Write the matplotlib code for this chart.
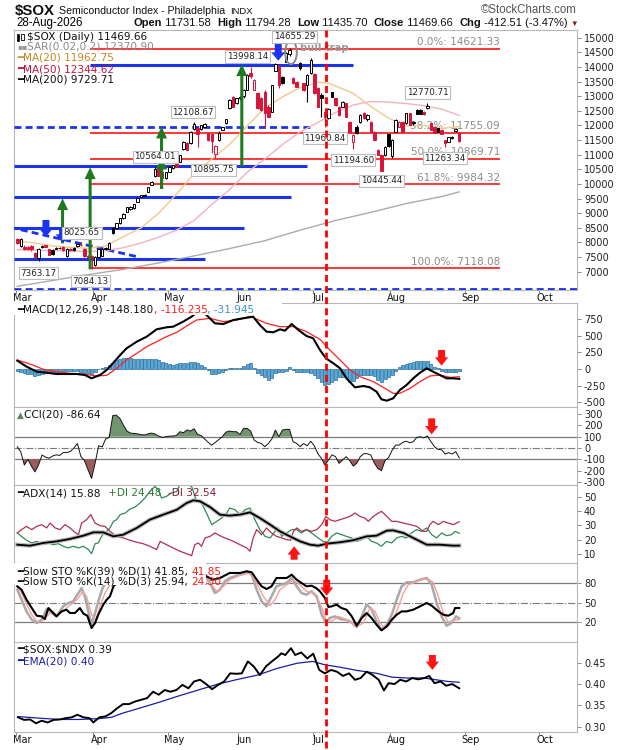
import numpy as np
import pandas as pd
import matplotlib
matplotlib.use("Agg")
import matplotlib.pyplot as plt
from matplotlib.patches import Ellipse, Rectangle
from matplotlib.lines import Line2D

plt.rcParams["font.family"] = ["DejaVu Sans"]
plt.rcParams["axes.unicode_minus"] = False
HEAD_FONT = ["Liberation Sans", "DejaVu Sans"]

# ---------------- trading calendar ----------------
holidays = pd.to_datetime(["2026-04-03", "2026-05-25", "2026-06-19", "2026-07-03", "2026-09-07"])
calendar = pd.bdate_range("2026-03-02", "2026-10-30")
calendar = calendar[~calendar.isin(holidays)]
month_names = ["Mar", "Apr", "May", "Jun", "Jul", "Aug", "Sep", "Oct"]

# ---------------- price data ($SOX daily) ----------------
opens = [8110,7880,7850,7860,7880,7650,7470,7850,7900,7760,
         7740,7780,7800,7850,7530,7760,7800,7880,7920,7780,
         7540,7520,7230,7500,7540,7780,7790,8480,8480,8660,
         8830,9050,9150,9170,9400,9570,9600,9740,9965,10260,
         10500,10420,10200,10420,10535,10706,10763,11185,11390,11390,
         11869,11903,11880,11960,11732,11700,11025,11500,11860,12074,
         12587,12986,12758,12950,13000,13214,13800,13214,13100,12929,
         13157,12644,12473,13864,14050,13670,14183,14450,13613,13500,
         14126,13442,13385,13784,13750,13271,13043,12473,12245,13134,
         12929,12644,12644,12758,12131,11447,11960,12131,12416,12211,
         12131,11789,11162,10991,10991,11700,10950,11789,11960,12131,
         12074,12416,12130,12530,12530,12470,12587,12074,11960,11900,
         11850,11504,11447,11560,11800,11731.58]
highs = [8150,8150,7900,7890,7920,7690,7800,7920,7930,7780,
         7770,7840,7840,7880,7820,7810,7850,7960,8025.65,7800,
         7560,7560,7530,7790,7800,7860,8000,8520,8670,8830,
         9010,9210,9240,9330,9520,9630,9650,9900,10100,10564.01,
         10520,10470,10420,10600,10660,10720,11000,11460,11420,11800,
         12108.67,11950,12020,12080,11760,11720,11320,11800,11960,12230,
         12900,13000,12950,13020,13250,13760,13998.14,13580,13150,12990,
         13200,12700,13400,14130,14080,13700,14500,14655.29,13650,13530,
         14183,13470,13750,14320,13780,13300,13100,12500,12600,13160,
         12950,12660,12840,12780,12150,11700,12000,12380,12450,12400,
         12150,11800,11200,11020,11300,11720,11550,12220,12160,12160,
         12430,12440,12150,12560,12560,12500,12770.71,12100,11990,11920,
         11880,11520,11620,11640,11930,11794.28]
lows = [7940,7860,7740,7740,7700,7460,7363.17,7820,7840,7560,
        7560,7760,7770,7720,7510,7700,7720,7860,7880,7500,
        7480,7084.13,7200,7480,7520,7740,7770,8280,8460,8640,
        8810,9030,9100,9150,9380,9550,9580,9720,9950,10240,
        10260,9850,10180,10400,10520,10580,10740,11160,11150,11380,
        11850,11276,11860,11940,11480,11048,10895.75,11480,11840,12060,
        12570,12620,12740,12880,12950,13200,13640,13200,12580,12500,
        11900,12280,12450,13850,13270,13420,14160,14380,13420,13300,
        13900,13190,12815,13760,13080,12620,12302,11960.84,12220,12960,
        12680,12340,12620,12280,11770,11194.60,11700,12100,12230,12150,
        11780,11500,10980,10445.44,10960,11250,10880,11770,11940,11780,
        12050,12000,12030,12380,12380,12360,12560,11840,11730,11780,
        11700,11263.34,11420,11540,11780,11435.70]
closes = [7970,8120,7780,7770,7760,7490,7770,7880,7860,7580,
          7600,7810,7820,7740,7790,7740,7750,7940,7900,7520,
          7500,7480,7510,7760,7780,7800,7970,8320,8650,8820,
          8990,9200,9220,9310,9510,9610,9630,9880,10080,10500,
          10280,10200,10400,10590,10649,10592,10991,11447,11162,11789,
          12040,11709,12000,12050,11504,11480,11299,11760,11940,12211,
          12872,12644,12929,12990,13214,13727,13700,13556,12600,12530,
          12416,12302,13385,14092,13400,13442,14468,14590,13442,13330,
          13955,13214,13727,14240,13100,12644,12929,12302,12564,12986,
          12701,12359,12815,12300,11789,11675,11732,12359,12245,12359,
          11790,11504,10991,10460,11276,11300,11500,12188,12131,11789,
          12416,12017,12090,12393,12400,12380,12650,11846,11740,11789,
          11720,11390,11600,11610,11882.17,11469.66]

# moving averages (read at sample days)
ma20_pos = [0,5,10,15,20,25,30,35,40,45,50,55,60,65,70,75,80,85,88,90,95,100,105,110,115,120,125]
ma20_val = [8050,7980,7880,7830,7800,7880,8200,8500,9000,9650,10350,10850,11350,11980,12600,12980,
            13300,13480,13450,13350,13100,12650,12250,11990,12000,11900,11963]
ma50_pos = [0,10,20,25,30,35,40,45,50,55,60,65,70,75,80,85,90,95,100,105,110,115,120,125]
ma50_val = [7750,7720,7690,7720,7820,7980,8180,8420,8750,9300,9800,10400,10850,11350,11780,12100,
            12450,12700,12820,12800,12750,12680,12560,12345]
ma200_pos = [0,10,20,30,40,50,60,70,80,90,100,110,120,125]
ma200_val = [6500,6700,6900,7080,7300,7540,7790,8060,8420,8750,9030,9330,9570,9730]

fib_levels = [14621.33, 11755.09, 10869.71, 9984.32, 7118.08]
fib_names = ["0.0%", "38.2%", "50.0%", "61.8%", "100.0%"]
support_levels = [14080, 10600, 9565, 8505, 7450]

# ---------------- MACD ----------------
macd_pos = [0,2.65,5.5,8.3,11.1,14,16.8,19.1,21,23.4,25.3,27.2,29.1,30.9,33.8,36.6,39.4,42.2,44.1,46.9,
            49.3,51.7,53.5,55.9,58.3,61.1,63.9,66.7,68.6,70.5,72.4,74.3,75.7,77.6,79.5,81.8,83.7,85.6,87.3,
            89.4,91.3,93.1,95.5,97.9,99.7,101.6,103,104.5,106.3,108.2,110.1,112,113.9,115.8,117.6,119.5,
            121.4,123.3,125]
macd_val = [125,35,-40,-55,-75,-75,-75,-90,-140,-90,-15,95,210,310,410,485,595,625,635,710,
            785,885,810,685,675,735,760,785,660,560,550,595,575,675,585,495,460,285,160,
            85,10,-140,-275,-255,-275,-340,-455,-475,-440,-315,-240,-140,-55,10,-40,-90,
            -140,-140,-148.18]
signal_pos = [0,3.6,7.4,11.1,14.9,18.7,22.4,25.3,28.1,30.9,33.8,36.6,39.4,42.2,45.1,47.9,50.7,54.5,58.3,
              62,65.8,70.5,74.3,78.1,81.8,85.6,88.4,91.3,94.1,96.9,100.7,103.5,106.3,108.2,111.1,
              113.9,116.7,119.5,122.4,125]
signal_val = [135,75,-5,-40,-65,-75,-105,-95,10,135,235,335,410,485,550,645,735,760,710,
              735,790,685,635,635,560,445,285,135,-15,-115,-190,-275,-365,-365,-290,
              -190,-105,-90,-125,-116.235]
macd_hist = [-25,-40,-55,-70,-80,-105,-95,-80,-65,-60, -55,-50,-40,-30,-25,-25,-25,-35,-40,-55,
             -60,-75,-45,-5,15,35,60,90,130,150, 160,160,160,155,150,150,150,145,150,155,
             140,110,90,75,60,70,85,90,95,110, 100,85,60,30,-20,-75,-70,-55,-40,-10,
             10,10,10,10,50,75,85,20,-60,-90, -120,-160,-140,-60,-40,-40,-25,30,-20,-40,
             -40,-40,-50,-65,-95,-140,-200,-245,-220,-190, -160,-120,-115,-120,-190,-175,-140,-90,-90,-90,
             -95,-110,-170,-195,-150,-120,-95,-25,30,60, 80,95,105,115,125,125,115,70,30,10,
             -25,-40,-40,-40,-40,-32]

# ---------------- CCI(20) ----------------
cci_vals = [12,-35,-150,-100,-160,-210,-150,-62,-80,-90, -70,-60,-65,-40,-40,-30,0,40,-76,-110,
            -190,-268,-135,20,10,80,94,285,290,262, 203,150,132,129,125,118,115,125,132,123,
            105,94,100,105,106,110,144,135,160,150, 170,120,110,80,50,25,50,75,100,140,
            150,144,144,120,173,173,150,70,50,40, 12,40,80,159,100,159,165,165,56,41,
            12,40,20,60,20,-50,-90,-150,-106,-60, -76,-135,-106,-76,-110,-159,-135,-76,-50,-50,
            -62,-135,-180,-200,-110,-85,-20,26,26,50, 60,47,56,94,100,90,106,56,12,-12,
            -15,-53,-41,-53,-32,-86.64]

# ---------------- ADX(14) ----------------
adx_pos = [0,3.6,7.4,11.1,14.9,18.7,21.5,24.3,27.2,30,33.8,37.5,41.3,45.1,47.9,49.8,51.7,54.5,57.3,60.1,
           63,65.8,68.6,71.5,74.3,77.1,80,82.8,85.1,87.5,91.3,95,98.8,101.6,104.5,106.3,109.2,112,115.8,
           119.5,123.3,125]
adx_val = [16.5,15.8,17.7,18.8,20.5,22.8,25.1,25.1,22.3,23.5,28.2,34,37.5,40.9,45.6,47.5,46.8,42.8,37.5,36.8,
           37.5,39.1,35.1,30.5,25.8,22.3,18.8,16.5,15.8,17.2,18.2,19.6,22.3,22.8,26.3,26.5,24.7,21.2,16.5,
           16.5,15.8,15.88]
pdi_pos = [0,1.2,2.6,4.1,5.5,7.4,8.8,10.2,11.6,13, 14.4,15.8,17.3,18.7,20.1,21,22,22.9,23.6,24.5,
           25.3,26.2,27.2,28.1,29.1,30.5,31.9,33.3,34.7,36.1, 37.5,38.9,39.9,40.8,42.2,43.6,45.1,46,47.4,49.3,
           50.7,52.1,53.5,55,56.4,57.8,59.2,60.1,61.6,63, 64.4,65.8,67.2,68.6,70.1,71.5,72.9,73.8,74.8,76.2,
           77.6,79,80.4,81.8,83.2,84.7,86.5,87.7,88.9,90.3, 91.7,93.1,94.6,96,97.4,98.8,100.2,101.6,103,104.4,
           105.9,107.3,108.7,110.1,111.5,112.9,114.3,115.8,117.2,118.6, 120,121.4,122.8,123.8,125]
pdi_val = [24.7,22.3,19.6,17.7,18.8,16.5,17.7,16.5,17.2,15.4, 14.2,15.4,14.2,15.4,13.1,10.2,17.2,17.7,21.2,24.7,
           25.8,28.2,32.8,34,37.5,38.6,41.4,42.8,45.6,49.1, 53.7,57.2,54.9,49.1,50.3,52.6,53.7,58.4,59.5,57.2,
           46.8,45.6,38.6,30.5,32.8,35.1,38.6,42.1,40.9,37.5, 40.9,42.1,34,27,22.3,21.2,25.8,28.2,22.3,24.7,
           27,27,24.7,27,24.7,21.9,18.8,18.2,22.3,24.7, 23.5,22.3,21.2,18.8,20,22.3,18.8,17.7,15.4,18.8,
           17.7,21.2,22.3,21.2,24.7,27,25.8,28.2,23.5,21.2, 24.7,22.8,23.5,25.8,24.48]
ndi_pos = [0,1.2,2.6,4.1,5.5,6.9,8.3,9.3,10.7,12.1, 13.5,14.9,16.3,17.3,18.2,19.6,20.8,22,23.4,24.8,
           26.2,28.1,30,31.9,33.8,35.6,37.5,39.4,40.4,42.2, 44.1,46,47.9,49.3,50.2,51.2,52.1,53.1,54.5,55.9,
           57.3,58.7,60.1,62,63.9,64.9,65.8,66.7,67.7,69.1, 70.5,71.9,73.3,74.8,76.2,77.3,78.1,79,80.4,81.8,
           83.2,84.7,86.1,87.3,88.4,89.8,91.3,92.7,94.1,95.5, 96.9,98.3,99.3,100.7,102.1,103,104.5,105.9,107.3,109.2,
           111.1,113,114.8,115.8,116.7,117.6,119.1,120.5,121.9,123.3, 125]
ndi_val = [24.7,27,29.3,27,29.3,30.5,28.2,31.6,28.2,27, 30.5,28.2,25.1,23.5,31.6,34,37.5,31.6,29.8,29.3,
           25.8,22.3,21.2,19.6,18.2,17.2,15.4,13.1,18.8,16.5, 14.2,11.9,10.2,8.8,16.5,17.7,15.4,21.2,22.3,24.7,
           22.8,21.2,20,17.7,15.4,14.2,11.9,21.2,27,23.5, 28.2,24.7,22.3,21.2,20,19.6,25.8,28.2,25.8,27,
           25.8,27,30.5,36.3,34,32.8,34,35.1,36.3,38.6, 36.3,35.1,32.8,36.3,38.6,39.8,36.3,32.8,32.8,31.6,
           30.5,29.3,25.8,25.8,30.5,32.8,30.5,32.8,31.6,30.5, 32.54]

# ---------------- Slow Stochastics ----------------
k39_pos = [0,1.2,2.6,4.1,5.5,6.9,7.8,8.8,10.2,11.1, 12.5,13.9,14.9,16.3,17.7,18.7,19.8,21,22,22.9,
           24.3,25.3,26.2,27.2,30,34,38,42,46,50, 53.5,55.4,57.3,60.1,63,64.9,66.3,67.7,69.1,70.5,
           71.9,73.3,74.8,76.2,77.6,79,80.4,81.8,83.2,84.5, 85.6,87,88,88.9,90.3,91.7,93.1,94.6,96,97.4,
           98.8,100.2,101.6,103,104.5,105.9,107.3,108.7,110.1,112, 113.9,115.8,117.2,119.1,120.5,121.9,123.3,123.8,125]
k39_val = [74.9,69.8,54.6,41.8,30.1,29.1,25,41.8,34.2,29.1, 36.7,39.3,34.2,34.2,41.8,33.2,30.1,11.3,19,31.6,
           46.9,54.6,59.6,74.9,90,95,97,96,97,97, 90.2,85.1,87.6,95.3,95.3,97.8,96.3,85.1,74.9,70.8,
           74.9,87.6,87.6,87.6,92.7,85.1,80,74.9,75.9,72.4, 67.3,57.1,43.4,44.4,46.9,41.8,39.3,29.1,14.8,26.6,
           34.2,26.6,16.4,7.7,13.8,24,31.6,36.7,36.7,39.3, 44.4,49.5,45.4,36.7,31.6,30.1,34.2,41.8,41.85]
k14_pos = [0,1.2,2.6,4.1,5.5,6.9,8.3,9.7,11.1,13, 14.4,15.8,17.3,18.2,19.1,20.1,21,22,23.2,24.3,
           25.3,30,35,40,45,50,53.5,54.5,55.9,57.3, 58.7,60.1,63,64.9,66.3,67.7,69.1,70.5,71.9,73.3,
           74.8,76.2,77.6,79,80.4,81.8,83.2,84.7,86.1,87.3, 88.4,89.8,91.3,92.7,94.1,96,97.4,98.8,100.2,101.6,
           103,104.5,105.9,107.3,108.7,110.1,112,113.9,115.8,117.2, 118.6,120,121.4,122.8,124.1,125]
k14_val = [69.8,54.6,36.7,24,19,24,40.3,34.2,29.1,44.4, 49.5,52,64.7,72.4,59.6,36.7,16.4,34.2,57.1,74.9,
           80,95,97,93,96,95,90,80,64.7,69.8, 82.6,87.6,93,97.8,92.7,69.8,52,44.4,59.6,74.9,
           77.5,80,87.6,74.9,64.7,62.2,67.3,59.6,31.6,19, 26.6,29.1,25,24,21.5,12.8,29.1,46.9,40.3,21.5,
           8.7,16.4,31.6,54.6,74.9,81,81,85.1,87.6,77.5, 49.5,29.1,14.8,19,29.1,25.94]
d3_pos = [0,1.2,2.6,4.1,5.5,6.9,8.3,9.7,11.1,13, 14.4,15.8,17.3,18.5,19.6,21,22.2,23.4,24.8,26.2,
          30,35,40,45,50,54.5,56.4,58.3,60.1,63, 65.8,67.7,69.6,71.5,72.9,74.3,76.2,78.1,79.9,81.8,
          83.7,85.6,87.3,88.9,90.8,92.7,94.6,96,97.9,99.7, 101.2,102.6,104,105.4,107.3,109.2,110.6,112.5,114.3,116.2,
          117.6,119.1,120.5,121.9,123.3,125]
d3_val = [74.9,64.7,48.5,31.6,21.5,21.5,29.1,36.7,31.6,36.7, 44.4,49.5,57.1,67.3,59.6,31.6,24,44.4,64.7,77.5,
          92,96,95,94,95,80,67.3,74.9,85.1,91.5, 95.3,80,59.6,45.4,54.6,69.8,77.5,84.1,77.5,67.3,
          64.7,49.5,24,21.5,29.1,25,19,13.8,19,41.8, 36.7,19,11.3,16.4,36.7,64.7,77.5,81,85.1,86.1,
          81,59.6,34.2,20,23,24.30]

# ---------------- $SOX:$NDX ratio ----------------
ratio_pos = [0.2,1.9,3.6,5.3,6.9,8.6,10.3,12,13.7,15.4, 17,18.7,20.4,21.5,23.2,24.9,26.6,28.2,29.9,31.6,
             33.3,35,36.7,38.4,40,41.7,43.3,45,46.7,48.4, 50,51.7,53.4,55.1,56.8,58.5,60.2,61.9,63.5,65.2,
             66.9,68.6,70.3,72,73.7,74.7,75.8,77.4,78.6,80.3, 82,83.7,85.4,87,88.7,90.4,92.1,93.8,95.5,97.1,
             98.8,100.5,102.2,103.7,105,106.7,108.3,110,111.7,113.4, 115.1,116.5,118,119.7,121.3,123,125]
ratio_val = [.322,.316,.317,.308,.314,.310,.316,.317,.320,.322, .328,.322,.320,.310,.322,.324,.332,.343,.353,.353,
             .359,.363,.367,.382,.375,.386,.382,.386,.398,.390, .406,.410,.400,.388,.398,.406,.425,.424,.425,.453,
             .441,.421,.441,.453,.464,.472,.468,.484,.468,.474, .460,.471,.433,.425,.433,.429,.419,.425,.410,.414,
             .429,.421,.410,.385,.402,.400,.410,.406,.414,.411, .414,.419,.402,.406,.396,.400,.39]
ema_pos = [0.2,6.3,12,17.5,23.2,26.6,29.9,34.4,40,45.6,51.2,56.8,62.4,68,73.6,79.3,83.6,87,91.6,96,
           101.7,106,110.6,115.1,118.4,121.8,125]
ema_val = [.3238,.320,.317,.317,.319,.322,.332,.343,.357,.372,.386,.400,.411,.421,.437,.449,.453,.445,.439,.432,
           .425,.416,.414,.414,.410,.406,.404]

# ---------------- styling ----------------
W, H = 620, 750
RED = "#d8143a"
BLUE = "#1a33ee"
GREEN = "#1f7a1f"
AR = "#ff1414"
SPINE = "#b8b8b8"
LEG = 7.6
XL = (-0.93, 158.3)
PANELS = {"main": (30, 290), "macd": (303, 407), "cci": (407, 485),
          "adx": (485, 563), "sto": (563, 642), "ratio": (642, 732)}

fig = plt.figure(figsize=(W / 100, H / 100), dpi=100)
renderer = fig.canvas.get_renderer()
bg = fig.add_axes([0, 0, 1, 1], zorder=-5)
bg.set_axis_off()


def make_ax(name):
    top, bot = PANELS[name]
    ax = fig.add_axes([14 / W, 1 - bot / H, (577 - 14) / W, (bot - top) / H])
    ax.set_xlim(*XL)
    for s in ax.spines.values():
        s.set_color(SPINE)
        s.set_linewidth(0.8)
    ax.yaxis.tick_right()
    ax.tick_params(axis="y", direction="out", length=3, width=0.6, color="#777",
                   labelsize=7, labelcolor="#222", pad=2)
    ax.set_xticks([])
    return ax


def fx(px):
    return (px - 14) / (577 - 14)


def fy(name, py):
    top, bot = PANELS[name]
    return 1 - (py - top) / (bot - top)


def rich(ax, x, y, pieces, size=LEG, z=20, transform=None, family=None):
    fam = family if family is not None else ["DejaVu Sans"]
    arts = []
    prev = None
    for p in pieces:
        s, c = p[0], p[1]
        w = p[2] if len(p) > 2 else "normal"
        fs = p[3] if len(p) > 3 else size
        if prev is None:
            prev = ax.text(x, y, s, color=c, fontsize=fs, fontweight=w, family=fam,
                           transform=transform if transform is not None else ax.transAxes,
                           ha="left", va="center", zorder=z, parse_math=False)
        else:
            prev = ax.annotate(s, xy=(1, 0), xycoords=prev, color=c, fontsize=fs, fontweight=w,
                               family=fam, ha="left", va="bottom", zorder=z,
                               annotation_clip=False, parse_math=False)
        arts.append(prev)
    return arts


def chain_extent(arts):
    x0 = arts[0].get_window_extent(renderer).x0
    x1 = arts[-1].get_window_extent(renderer).x1
    return x0, x1


def fit_chain(arts, left_px, right_px, lo=0.5, hi=1.25):
    x0, x1 = chain_extent(arts)
    scale = min(max((right_px - left_px) / (x1 - x0), lo), hi)
    for a in arts:
        a.set_fontsize(a.get_fontsize() * scale)
    x0, x1 = chain_extent(arts)
    px, py = arts[0].get_position()
    arts[0].set_position((px + (right_px - x1) / W, py))


def block_arrow(ax, xpos, y0, y1, color, hw, hl, tw, z=9):
    ax.annotate("", xy=(xpos, y1), xytext=(xpos, y0), xycoords="data",
                arrowprops=dict(arrowstyle=f"simple,head_length={hl},head_width={hw},tail_width={tw}",
                                color=color, shrinkA=0, shrinkB=0, mutation_scale=10, lw=0),
                zorder=z, annotation_clip=False)


months = np.asarray(calendar.month)
month_start = np.flatnonzero(np.r_[True, months[1:] != months[:-1]])


def month_axis(ax):
    ax.set_xticks(month_start + 1.3)
    ax.set_xticklabels(month_names)
    ax.tick_params(axis="x", length=0, labelsize=7, labelcolor="#111", pad=2)
    ax.set_xticks(month_start - 0.5, minor=True)
    ax.tick_params(axis="x", which="minor", length=3, width=0.6, color="#777", direction="out")


# ================= header =================
sox = rich(bg, 15 / W, 1 - 11 / H, [("$SOX", "#111", "bold", 11.5)], transform=bg.transAxes, family=HEAD_FONT)
fit_chain(sox, 15, 55)
title = rich(bg, 58 / W, 1 - 11 / H, [("Semiconductor Index - Philadelphia", "#111", "normal", 8.0)],
             transform=bg.transAxes, family=HEAD_FONT)
fit_chain(title, 58, 225)
indx = rich(bg, 230 / W, 1 - 11 / H, [("INDX", "#111", "normal", 6.8)], transform=bg.transAxes, family=HEAD_FONT)
bg.text(577 / W, 1 - 10 / H, "\u00a9StockCharts.com", fontsize=8.3, color="#555", family=HEAD_FONT,
        ha="right", va="center", transform=bg.transAxes)
bg.text(16 / W, 1 - 23 / H, "28-Aug-2026", fontsize=8.3, family=HEAD_FONT, ha="left", va="center",
        transform=bg.transAxes)
hdr = [("Open", "#111", "bold", 8.0), (" 11731.58  ", "#111", "normal", 8.0),
       ("High", "#111", "bold", 8.0), (" 11794.28  ", "#111", "normal", 8.0),
       ("Low", "#111", "bold", 8.0), (" 11435.70  ", "#111", "normal", 8.0),
       ("Close", "#111", "bold", 8.0), (" 11469.66  ", "#111", "normal", 8.0),
       ("Chg", "#111", "bold", 8.0), (" -412.51 (-3.47%) ", "#111", "normal", 8.0),
       ("\u25bc", "#8b1a1a", "normal", 5.5)]
hline = rich(bg, 133 / W, 1 - 23 / H, hdr, transform=bg.transAxes, family=HEAD_FONT)
fit_chain(hline, 133, 578)

# ================= main price panel =================
axm = make_ax("main")
axm.set_ylim(6374, 15266)
axm.set_yticks(np.arange(7000, 15001, 500))
month_axis(axm)

x = np.arange(len(closes))
o, h, l, c = (np.asarray(v, dtype=float) for v in (opens, highs, lows, closes))
prev_close = np.r_[o[0], c[:-1]]
cols = np.where(c >= prev_close, "black", RED)
faces = [col if cc < oo else "white" for col, cc, oo in zip(cols, c, o)]

# fibonacci retracement
axm.hlines(fib_levels, 20.5, 136.5, color="#ff0000", lw=1.1, zorder=2)
for lv, nm in zip(fib_levels, fib_names):
    axm.annotate(f"{nm}: {lv:.2f}", xy=(136.5, lv), xytext=(0, 1.2), textcoords="offset points",
                 ha="right", va="bottom", color="#8c8c8c", fontsize=7.5, zorder=2.5)

# support / resistance lines
sup_start = [20.6, XL[0], XL[0], XL[0], XL[0]]
sup_end = [95, 82, 77.5, 64, 53]
for lv, s0, s1 in zip(support_levels, sup_start, sup_end):
    axm.plot([s0, s1], [lv, lv], color=BLUE, lw=2.2, solid_capstyle="butt", zorder=3)
dash = (0, (2.5, 1.5))
axm.plot([XL[0], 83.5], [11960, 11960], color=BLUE, lw=2.0, ls=dash, zorder=3)
axm.plot([-2.06, 34.7], [8520, 7490], color=BLUE, lw=2.0, ls=dash, zorder=3)
axm.axhline(6420, color=BLUE, lw=2.0, ls=dash, zorder=3)

# moving averages
axm.plot(ma200_pos, ma200_val, color="#ababab", lw=1.0, zorder=3.2)
axm.plot(ma50_pos, ma50_val, color="#f4b2be", lw=1.0, zorder=3.3)
axm.plot(ma20_pos, ma20_val, color="#f2c98c", lw=1.0, zorder=3.4)

# candles
axm.vlines(x, l, h, colors=cols, lw=0.8, zorder=5)
axm.bar(x, np.maximum(np.abs(c - o), 15), bottom=np.minimum(o, c), width=0.7,
        color=faces, edgecolor=cols, linewidth=0.7, zorder=6)

# arrows
for xp, y0, y1 in [(12.8, 7971, 9510), (20.6, 7081, 10570), (40.8, 9830, 10900),
                   (40.8, 9830, 11960), (63.5, 10592, 14093)]:
    block_arrow(axm, xp, y0, y1, GREEN, 0.8, 0.85, 0.22)
for xp, y0, y1 in [(8.1, 8768, 8197), (12.8, 8518, 7992), (73.8, 14787, 14216)]:
    block_arrow(axm, xp, y0, y1, BLUE, 1.0, 0.6, 0.5)

# bull trap
axm.add_patch(Ellipse((77.4, 14500), 3.3, 800, fill=False, ec="#8a8a8a", lw=1.4, zorder=8))
axm.text(79.9, 14667, "bull trap", color="#9a9a9a", fontsize=7.2, fontweight="bold",
         ha="left", va="center", zorder=8)

# price labels
label_spec = [(6, "low", 0, 12), (21, "low", -1, 12), (18, "high", 1, -9), (39, "high", 0, -10.5),
              (50, "high", -1, -10), (56, "low", -2, 12), (66, "high", -3, -10.5), (77, "high", 5, -11),
              (87, "low", 0, 11.5), (95, "low", 0, 11), (103, "low", 0, 10), (116, "high", 0, -10.5),
              (121, "low", 0, 11)]
for i, kind, dxp, dyp in label_spec:
    v = h[i] if kind == "high" else l[i]
    axm.annotate(f"{v:.2f}", xy=(i, v), xytext=(dxp * 0.72, -dyp * 0.72), textcoords="offset points",
                 ha="center", va="center", fontsize=6.3, color="#222",
                 bbox=dict(boxstyle="square,pad=0.18", fc="white", ec="#bdbdbd", lw=0.8), zorder=9)

# main legend
axm.add_patch(Rectangle((fx(16.5), fy("main", 41)), 2.5 / 563, 7 / 260, transform=axm.transAxes,
                        fc="black", ec="black", lw=0.5, zorder=20))
axm.add_patch(Rectangle((fx(21), fy("main", 40)), 2.5 / 563, 6 / 260, transform=axm.transAxes,
                        fc="white", ec="black", lw=0.6, zorder=20))
rich(axm, fx(27), fy("main", 36.5), [("$SOX (Daily) 11469.66", "#111")])
rich(axm, fx(17), fy("main", 47), [("\u25aa\u25aa", "#999999", "normal", 5.5), ("SAR(0.02,0.2) 12370.90", "#8c8c8c")])
rich(axm, fx(17), fy("main", 58), [("\u2501", "#d4962e"), ("MA(20) 11962.75", "#c8861e")])
rich(axm, fx(17), fy("main", 69), [("\u2501", "#c4123c"), ("MA(50) 12344.62", "#c4123c")])
rich(axm, fx(17), fy("main", 80), [("\u2501", "#111"), ("MA(200) 9729.71", "#111")])

# ================= MACD =================
axd = make_ax("macd")
axd.set_ylim(-570, 990)
axd.set_yticks([750, 500, 250, 0, -250, -500])
axd.bar(x, macd_hist, width=0.85, color="#5aa8da", edgecolor="#2b6e99", linewidth=0.5, zorder=2)
axd.plot(signal_pos, signal_val, color="#ff2020", lw=0.9, zorder=3)
axd.plot(macd_pos, macd_val, color="black", lw=1.5, zorder=4)
axd.add_patch(Rectangle((XL[0], 815), 74.9 - XL[0], 200, fc="white", ec="none", zorder=5))
rich(axd, fx(17), fy("macd", 310), [("\u2501", "#111"), ("MACD(12,26,9) -148.180", "#111"),
                                    (", -116.235", "#ff1a1a"), (", -31.945", "#3c96c8")])
block_arrow(axd, 120, 285, 50, AR, 0.95, 0.6, 0.5)

# ================= CCI =================
axc = make_ax("cci")
axc.set_ylim(-326, 362)
axc.set_yticks([300, 200, 100, 0, -100, -200, -300])
cci = np.asarray(cci_vals, dtype=float)
axc.fill_between(x, cci, 100, where=cci > 100, interpolate=True, color="#71966f", lw=0, zorder=2)
axc.fill_between(x, cci, -100, where=cci < -100, interpolate=True, color="#9c5c5c", lw=0, zorder=2)
axc.axhline(100, color="#7a7a7a", lw=0.9, zorder=1)
axc.axhline(-100, color="#7a7a7a", lw=0.9, zorder=1)
axc.axhline(0, color="#7a7a7a", lw=0.8, ls="-.", zorder=1)
axc.plot(x, cci, color="#111", lw=0.7, zorder=3)
rich(axc, fx(17), fy("cci", 415), [("\u25b2", "#5f865d", "normal", 6.5), ("CCI(20) -86.64", "#111")])
block_arrow(axc, 117.2, 262, 121, AR, 0.95, 0.6, 0.5)

# ================= ADX =================
axa = make_ax("adx")
axa.set_ylim(3.7, 58.2)
axa.set_yticks([10, 20, 30, 40, 50])
axa.plot(pdi_pos, pdi_val, color="#2e8b57", lw=0.9, zorder=2)
axa.plot(ndi_pos, ndi_val, color="#b03052", lw=0.9, zorder=2)
axa.plot(adx_pos, adx_val, color="#b8b8b8", lw=3.0, zorder=3)
axa.plot(adx_pos, adx_val, color="black", lw=1.3, zorder=4)
rich(axa, fx(17), fy("adx", 493), [("\u2501", "#111"), ("ADX(14) 15.88  ", "#111"),
                                   ("+DI 24.48  ", "#2e7d32"), ("-DI 32.54", "#8b1a3a")])
block_arrow(axa, 78.3, 6.0, 15.4, AR, 0.95, 0.6, 0.5)

# ================= Slow Stochastics =================
axs = make_ax("sto")
axs.set_ylim(-10, 110.5)
axs.set_yticks([20, 50, 80])
axs.axhline(80, color="#7a7a7a", lw=0.9, zorder=1)
axs.axhline(20, color="#7a7a7a", lw=0.9, zorder=1)
axs.axhline(50, color="#7a7a7a", lw=0.8, ls="-.", zorder=1)
axs.plot(k14_pos, k14_val, color="#a9a9a9", lw=1.8, zorder=2)
axs.plot(d3_pos, d3_val, color="#f4a0a0", lw=1.0, zorder=3)
axs.plot(k39_pos, k39_val, color="black", lw=1.5, zorder=4)
axs.add_patch(Rectangle((XL[0], 77.5), 53.3 - XL[0], 40, fc="white", ec="none", zorder=5))
rich(axs, fx(17), fy("sto", 572), [("\u2501", "#111"), ("Slow STO %K(39) %D(1) 41.85, ", "#111"),
                                   ("41.85", "#ff1a1a")])
rich(axs, fx(17), fy("sto", 582), [("\u2501", "#111"), ("Slow STO %K(14) %D(3) 25.94, ", "#111"),
                                   ("24.30", "#ff1a1a")])
block_arrow(axs, 87.5, 85, 60.5, AR, 0.95, 0.6, 0.5)

# ================= $SOX:$NDX =================
axr = make_ax("ratio")
axr.set_ylim(0.2876, 0.4985)
axr.set_yticks([0.30, 0.35, 0.40, 0.45])
axr.set_yticklabels(["0.30", "0.35", "0.40", "0.45"])
month_axis(axr)
axr.plot(ema_pos, ema_val, color="#1c1ca8", lw=0.9, zorder=2)
axr.plot(ratio_pos, ratio_val, color="black", lw=1.4, zorder=3)
rich(axr, fx(17), fy("ratio", 649), [("\u2501", "#111"), ("$SOX:$NDX 0.39", "#111")])
rich(axr, fx(17), fy("ratio", 661), [("\u2501", "#1c1ca8"), ("EMA(20) 0.40", "#1c1ca8")])
block_arrow(axr, 117.4, 0.468, 0.433, AR, 0.95, 0.6, 0.5)

# ================= vertical red dashed marker =================
xf = fig.transFigure.inverted().transform(axm.transData.transform((87.3, 0)))[0]
fig.add_artist(Line2D([xf, xf], [1 - 30 / H, 0], transform=fig.transFigure, color="#ff0000",
                      lw=2.0, ls=(0, (2.5, 1.5)), zorder=50))

fig.savefig("out.png", dpi=100, facecolor="white")
